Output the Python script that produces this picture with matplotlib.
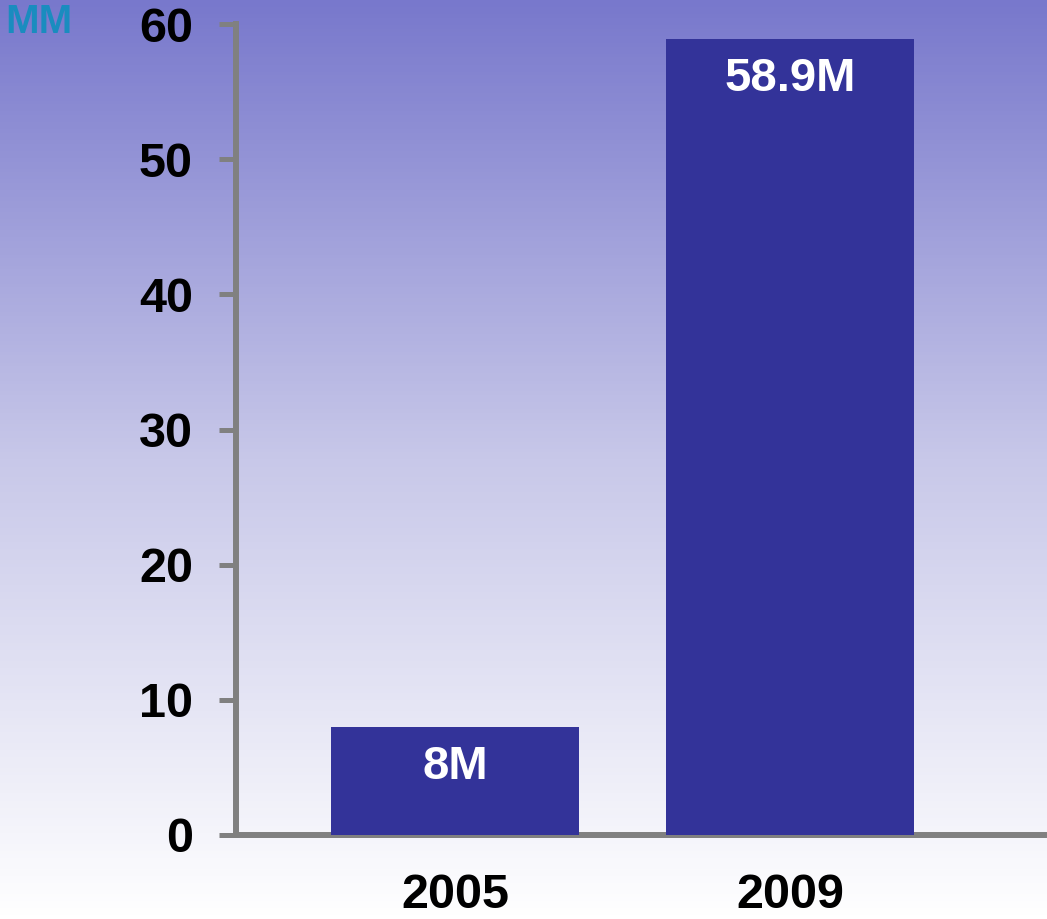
import matplotlib
matplotlib.use("Agg")
import matplotlib.pyplot as plt
import numpy as np
from matplotlib.colors import LinearSegmentedColormap

categories = ["2005", "2009"]
values = [8.0, 58.9]
bar_labels = ["8M", "58.9M"]
yticks = [0, 10, 20, 30, 40, 50, 60]
unit_label = "MM"

plt.rcParams['font.family'] = ['Liberation Sans', 'DejaVu Sans']
plt.rcParams['font.weight'] = 'bold'

W, H = 1047, 919
fig = plt.figure(figsize=(W / 100, H / 100), dpi=100)

# background gradient
bg = fig.add_axes([0, 0, 1, 1], zorder=-10)
cmap = LinearSegmentedColormap.from_list("bgc", ["#7878cc", "#c8c8e9", "#ffffff"])
grad = np.linspace(0, 1, 256).reshape(-1, 1)
bg.imshow(grad, aspect='auto', cmap=cmap, extent=[0, 1, 0, 1], origin='upper')
bg.set_xlim(0, 1)
bg.set_ylim(0, 1)
bg.axis('off')

ax = fig.add_axes([236 / W, 1 - 835 / H, (1044 - 236) / W, (835 - 24) / H])
ax.patch.set_alpha(0)

x = np.arange(len(categories))
ax.bar(x, values, width=0.74, color="#333399", zorder=3)
ax.set_xlim(-0.654, 1.758)
ax.set_ylim(0, 60)

for xi, v, lab in zip(x, values, bar_labels):
    ax.annotate(lab, (xi, v), xytext=(0, -29), textcoords='offset points',
                ha='center', va='center', color='white', fontsize=34,
                fontweight='bold', zorder=4)

ax.set_xticks(x)
ax.set_xticklabels(categories, fontsize=35, fontweight='bold')
ax.tick_params(axis='x', length=0, pad=27)
ax.set_yticks(yticks)
ax.set_yticklabels([str(t) for t in yticks], fontsize=35, fontweight='bold')
ax.tick_params(axis='y', length=12, width=3.6, color='#808080', pad=19)

for s in ['top', 'right']:
    ax.spines[s].set_visible(False)
for s in ['left', 'bottom']:
    ax.spines[s].set_color('#808080')
    ax.spines[s].set_linewidth(4.3)
    ax.spines[s].set_capstyle('projecting')

fig.text(5 / W, 1 - 33 / H, unit_label, color='#1a8cbf', fontsize=29,
         fontweight='bold', ha='left', va='baseline')

fig.savefig("out.png", dpi=100)
